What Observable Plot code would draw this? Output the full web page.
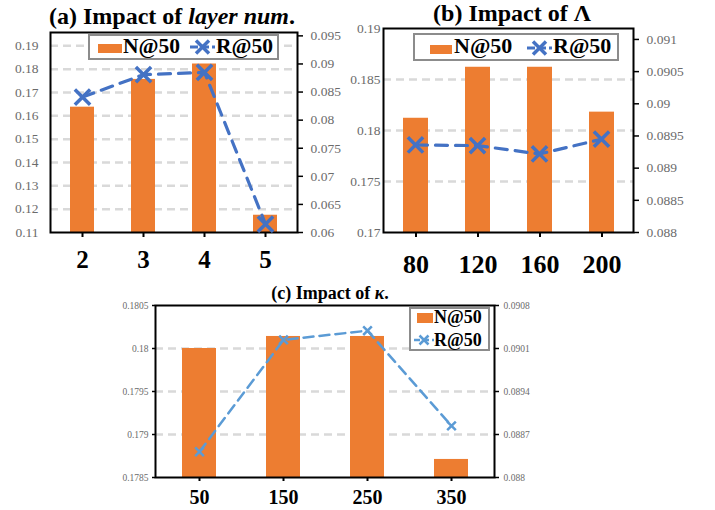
<!DOCTYPE html>
<html>
<head>
<meta charset="utf-8">
<script src="https://cdn.jsdelivr.net/npm/d3@7"></script>
<script src="https://cdn.jsdelivr.net/npm/@observablehq/plot@0.6"></script>
<style>
  html, body { margin: 0; padding: 0; background: #fff; }
  #root { position: relative; width: 715px; height: 510px; overflow: hidden; font-family: "Liberation Serif", "Times New Roman", serif; }
  #root svg { position: absolute; left: 0; top: 0; }
  #root svg, #root svg g, #root svg text { font-family: "Liberation Serif", "Times New Roman", serif !important; }
  .title { position: absolute; width: 320px; text-align: center; font-weight: bold; white-space: nowrap; color: #000; }
  .legend { position: absolute; box-sizing: border-box; border: 2px solid #8c8c8c; background: #fff; }
  .lt { position: absolute; font-weight: bold; white-space: nowrap; color: #000; }
  .sw { position: absolute; }
</style>
</head>
<body>
<div id="root"></div>
<script>
// ---- data ----
const catsA = ["2", "3", "4", "5"];
const nA = [0.1637, 0.1756, 0.1822, 0.1174];
const rA = [0.0841, 0.0881, 0.0885, 0.0615];
const ticksAL = [0.11, 0.12, 0.13, 0.14, 0.15, 0.16, 0.17, 0.18, 0.19];
const ticksAR = [0.06, 0.065, 0.07, 0.075, 0.08, 0.085, 0.09, 0.095];
const gridA = [0.12, 0.13, 0.14, 0.15, 0.16, 0.17, 0.18, 0.19];

const catsB = ["80", "120", "160", "200"];
const nB = [0.1812, 0.1862, 0.1862, 0.1818];
const rB = [0.08936, 0.08935, 0.08922, 0.08945];
const ticksBL = [0.17, 0.175, 0.18, 0.185, 0.19];
const ticksBR = [0.088, 0.0885, 0.089, 0.0895, 0.09, 0.0905, 0.091];
const gridB = [0.175, 0.18, 0.185];

const catsC = ["50", "150", "250", "350"];
const nC = [0.18000, 0.18014, 0.18014, 0.17871];
const rC = [0.08842, 0.09024, 0.09039, 0.08884];
const ticksCL = [0.1785, 0.179, 0.1795, 0.18, 0.1805];
const ticksCR = [0.088, 0.0887, 0.0894, 0.0901, 0.0908];
const gridC = [0.179, 0.1795, 0.18];

const W = 715, H = 510;
const BAR = "#ED7D31";
const FONT = "'Liberation Serif', 'Times New Roman', serif";
const fmt = d => String(+d.toFixed(5));
const root = document.getElementById("root");

function panel(c) {
  const data = c.cats.map((k, i) => ({cat: k, n: c.n[i], r: c.r[i]}));
  const common = {
    width: W, height: H,
    marginLeft: c.x0, marginRight: W - c.x1, marginTop: c.y0, marginBottom: H - c.y1,
    style: {background: "transparent", fontFamily: FONT, overflow: "visible"}
  };
  const bars = Plot.plot({
    ...common,
    x: {type: "band", domain: c.cats, paddingInner: 0.6, paddingOuter: 0.3, label: null},
    y: {domain: c.yL, label: null},
    marks: [
      Plot.gridY(c.grid, {stroke: "#d9d9d9", strokeOpacity: 1, strokeWidth: 2.5, strokeDasharray: "8,5"}),
      Plot.barY(data, {x: "cat", y1: c.yL[0], y2: "n", fill: BAR}),
      Plot.axisY({ticks: c.ticksL, tickFormat: fmt, tickSize: c.lTick, tickPadding: c.lPad, fontSize: c.tf, fontFamily: FONT, fill: "#6b6b6b", stroke: "black", strokeWidth: 1.5, label: null}),
      Plot.axisX({tickSize: c.xTick, tickPadding: c.xPad, fontSize: c.xf, fontFamily: FONT, fontWeight: "bold", fill: "black", stroke: "black", strokeWidth: 2, label: null}),
      Plot.frame({stroke: "black", strokeWidth: 2})
    ]
  });
  const lines = Plot.plot({
    ...common,
    x: {type: "point", domain: c.cats, padding: 0.5, axis: null},
    y: {domain: c.yR, label: null},
    marks: [
      Plot.axisY({anchor: "right", ticks: c.ticksR, tickFormat: fmt, tickSize: c.rTick, tickPadding: c.rPad, fontSize: c.tf, fontFamily: FONT, fill: "#6b6b6b", stroke: "black", strokeWidth: 1.5, label: null}),
      Plot.line(data, {x: "cat", y: "r", stroke: c.lc, strokeWidth: c.lw, strokeDasharray: c.dash}),
      Plot.dot(data, {x: "cat", y: "r", symbol: "times", r: c.mr, stroke: c.lc, strokeWidth: c.mw})
    ]
  });
  root.appendChild(bars);
  root.appendChild(lines);
}

panel({cats: catsA, n: nA, r: rA, x0: 50, x1: 297, y0: 32, y1: 232,
  yL: [0.11, 0.1957], yR: [0.06, 0.0956], ticksL: ticksAL, ticksR: ticksAR, grid: gridA,
  lTick: 0, lPad: 12, rTick: 5, rPad: 8, tf: 13.5, xf: 25, xTick: 5, xPad: 13,
  lc: "#4472C4", lw: 3.2, dash: "12,8", mr: 7, mw: 3.5});

panel({cats: catsB, n: nB, r: rB, x0: 383, x1: 633, y0: 28, y1: 232,
  yL: [0.17, 0.19], yR: [0.088, 0.09117], ticksL: ticksBL, ticksR: ticksBR, grid: gridB,
  lTick: 0, lPad: 3, rTick: 5, rPad: 8, tf: 13.5, xf: 26, xTick: 5, xPad: 17,
  lc: "#4472C4", lw: 3.2, dash: "12,8", mr: 7, mw: 3.5});

panel({cats: catsC, n: nC, r: rC, x0: 155, x1: 494, y0: 305, y1: 477,
  yL: [0.1785, 0.1805], yR: [0.088, 0.0908], ticksL: ticksCL, ticksR: ticksCR, grid: gridC,
  lTick: 3, lPad: 4, rTick: 4, rPad: 5, tf: 9.5, xf: 20, xTick: 4, xPad: 8,
  lc: "#5B9BD5", lw: 2.5, dash: "10,6", mr: 4, mw: 2.5});

// ---- titles ----
function title(html, cx, top, size) {
  const d = document.createElement("div");
  d.className = "title";
  d.innerHTML = html;
  d.style.left = (cx - 160) + "px";
  d.style.top = top + "px";
  d.style.fontSize = size + "px";
  d.style.lineHeight = size + "px";
  root.appendChild(d);
}
title("(a) Impact of <i>layer num</i>.", 172, 4, 24);
title("(b) Impact of &Lambda;", 512, 1, 24);
title("(c) Impact of <i>&kappa;</i>.", 330, 284, 18);

// ---- legends ----
function el(cls, css, html) {
  const d = document.createElement("div");
  d.className = cls;
  Object.assign(d.style, css);
  if (html != null) d.innerHTML = html;
  root.appendChild(d);
  return d;
}
function lineSwatch(x, y, w, color, lw, dash, mr, mw) {
  const half = mr;
  const svg = `<svg width="${w}" height="20" style="overflow:visible">
    <line x1="0" y1="10" x2="${w}" y2="10" stroke="${color}" stroke-width="${lw}" stroke-dasharray="${dash}"/>
    <path d="M${w/2 - half},${10 - half}L${w/2 + half},${10 + half}M${w/2 - half},${10 + half}L${w/2 + half},${10 - half}" stroke="${color}" stroke-width="${mw}"/>
  </svg>`;
  el("sw", {left: x + "px", top: (y - 10) + "px", width: w + "px", height: "20px"}, svg);
}
// legend (a)
el("legend", {left: "88px", top: "34px", width: "191px", height: "26px"});
el("sw", {left: "98px", top: "44px", width: "24px", height: "9px", background: BAR});
el("lt", {left: "123px", top: "35.5px", fontSize: "21.5px", lineHeight: "21.5px"}, "N@50");
lineSwatch(190, 47, 25, "#4472C4", 3.2, "8,3", 6.5, 3.5);
el("lt", {left: "216px", top: "35.5px", fontSize: "21.5px", lineHeight: "21.5px"}, "R@50");
// legend (b)
el("legend", {left: "413px", top: "33px", width: "206px", height: "28px"});
el("sw", {left: "430px", top: "45px", width: "22px", height: "9px", background: BAR});
el("lt", {left: "454px", top: "34.5px", fontSize: "22px", lineHeight: "22px"}, "N@50");
lineSwatch(527, 48, 25, "#4472C4", 3.2, "8,3", 6.5, 3.5);
el("lt", {left: "553px", top: "34.5px", fontSize: "22px", lineHeight: "22px"}, "R@50");
// legend (c)
el("legend", {left: "409px", top: "307px", width: "81px", height: "44px"});
el("sw", {left: "417px", top: "313px", width: "16px", height: "10px", background: BAR});
el("lt", {left: "434px", top: "308px", fontSize: "18px", lineHeight: "18px"}, "N@50");
lineSwatch(414, 340, 20, "#5B9BD5", 2.5, "6,3", 4.5, 2.5);
el("lt", {left: "434px", top: "331px", fontSize: "18px", lineHeight: "18px"}, "R@50");
</script>
</body>
</html>
